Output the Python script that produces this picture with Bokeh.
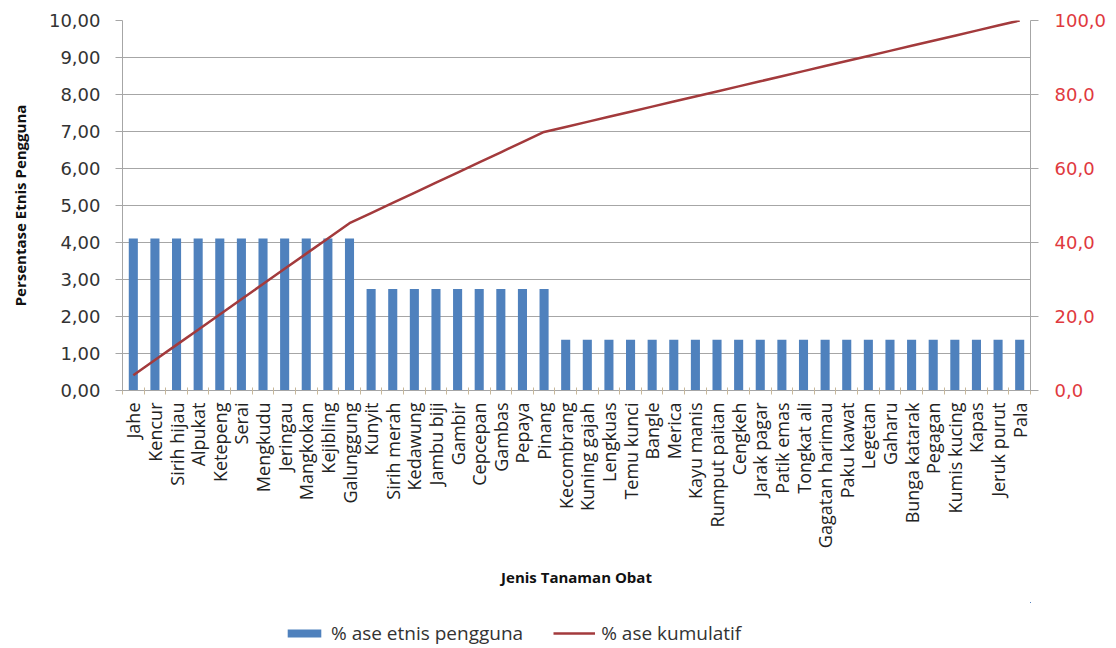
import numpy as np
from bokeh.plotting import figure
from bokeh.layouts import column
from bokeh.models import (Range1d, LinearAxis, FixedTicker, Legend, LegendItem,
                          ColumnDataSource)
from bokeh.embed import file_html
from bokeh.resources import INLINE

# Medicinal plant species and the share of ethnic users (%) for each
plants = ["Jahe", "Kencur", "Sirih hijau", "Alpukat", "Ketepeng", "Serai",
          "Mengkudu", "Jeringau", "Mangkokan", "Kejibling", "Galunggung",
          "Kunyit", "Sirih merah", "Kedawung", "Jambu biji", "Gambir",
          "Cepcepan", "Gambas", "Pepaya", "Pinang",
          "Kecombrang", "Kuning gajah", "Lengkuas", "Temu kunci", "Bangle",
          "Merica", "Kayu manis", "Rumput paitan", "Cengkeh", "Jarak pagar",
          "Patik emas", "Tongkat ali", "Gagatan harimau", "Paku kawat",
          "Legetan", "Gaharu", "Bunga katarak", "Pegagan", "Kumis kucing",
          "Kapas", "Jeruk purut", "Pala"]
pct_users = [4.11] * 11 + [2.74] * 9 + [1.37] * 22

left_ticks = [0, 1, 2, 3, 4, 5, 6, 7, 8, 9, 10]
right_ticks = [0, 20, 40, 60, 80, 100]

BLUE = "#4F81BD"
LINE = "#A33A3C"
RED_TXT = "#E0393E"
GRID = "#A6A6A6"
FONT = "Open Sans"
NUM_FONT = "DejaVu Sans"

x = np.arange(len(plants))
cumulative = np.cumsum(pct_users)
src = ColumnDataSource(dict(x=x, pct=pct_users, cum=cumulative, name=plants))

p = figure(frame_width=908, frame_height=370, output_backend="svg",
           toolbar_location=None,
           x_range=Range1d(-0.5, len(plants) - 0.5), y_range=Range1d(0, 10),
           min_border_left=122, min_border_right=86, min_border_top=20,
           min_border_bottom=212, background_fill_color="white",
           border_fill_color="white")
p.outline_line_color = None
p.extra_y_ranges = {"cum": Range1d(0, 100)}

# grid
p.xgrid.grid_line_color = None
p.ygrid.grid_line_color = GRID
p.ygrid.grid_line_width = 1

# x axis: names at bar centres, small marks at category boundaries
xa = p.xaxis[0]
xa.ticker = FixedTicker(ticks=list(x), minor_ticks=list(np.arange(len(plants) + 1) - 0.5))
xa.major_label_overrides = {int(i): n for i, n in zip(x, plants)}
xa.major_label_orientation = np.pi / 2
xa.major_tick_line_color = None
xa.minor_tick_line_color = "#C8B89A"
xa.minor_tick_in = 3
xa.minor_tick_out = 4
xa.axis_line_color = GRID
xa.major_label_text_font = FONT
xa.major_label_text_font_size = "18px"
xa.major_label_text_color = "#222222"
xa.major_label_standoff = 6
xa.axis_label = "Jenis Tanaman Obat"
xa.axis_label_text_font = FONT
xa.axis_label_text_font_style = "bold"
xa.axis_label_text_font_size = "15px"
xa.axis_label_text_color = "#111111"
xa.axis_label_standoff = 16

# left axis
ya = p.yaxis[0]
ya.ticker = FixedTicker(ticks=left_ticks)
ya.major_label_overrides = {t: f"{t:.2f}".replace(".", ",") for t in left_ticks}
ya.minor_tick_line_color = None
ya.major_tick_in = 0
ya.major_tick_out = 7
ya.major_tick_line_color = GRID
ya.axis_line_color = GRID
ya.major_label_text_font = NUM_FONT
ya.major_label_text_font_size = "18px"
ya.major_label_text_color = "#333333"
ya.major_label_standoff = 15
ya.axis_label = "Persentase Etnis Pengguna"
ya.axis_label_text_font = FONT
ya.axis_label_text_font_style = "bold"
ya.axis_label_text_font_size = "15px"
ya.axis_label_text_color = "#111111"
ya.axis_label_standoff = 16

# right axis for the cumulative share
ra = LinearAxis(y_range_name="cum", ticker=FixedTicker(ticks=right_ticks))
ra.major_label_overrides = {t: f"{t:.1f}".replace(".", ",") for t in right_ticks}
ra.minor_tick_line_color = None
ra.major_tick_in = 0
ra.major_tick_out = 8
ra.major_tick_line_color = GRID
ra.axis_line_color = GRID
ra.major_label_text_font = NUM_FONT
ra.major_label_text_font_size = "18px"
ra.major_label_text_color = RED_TXT
ra.major_label_standoff = 16
p.add_layout(ra, "right")

p.vbar(x="x", top="pct", width=0.42, source=src, fill_color=BLUE, line_color=None)
p.line(x="x", y="cum", source=src, y_range_name="cum", line_color=LINE, line_width=2.5)

# legend strip under the chart; its view ranges lie away from the data, so
# only the legend keys of these two renderers show up
leg = figure(width=1116, height=46, output_backend="svg", toolbar_location=None,
             x_axis_type=None, y_axis_type=None, min_border=0,
             x_range=Range1d(-100, -99), y_range=Range1d(-100, -99),
             background_fill_color="white", border_fill_color="white")
leg.outline_line_color = None
leg.grid.visible = False
key_bar = leg.vbar(x="x", top="pct", width=0.42, source=src, fill_color=BLUE, line_color=None)
key_line = leg.line(x="x", y="cum", source=src, line_color=LINE, line_width=2.5)

legend = Legend(items=[LegendItem(label="% ase etnis pengguna", renderers=[key_bar]),
                       LegendItem(label="% ase kumulatif", renderers=[key_line])],
                orientation="horizontal", location=(161, 2),
                glyph_width=42, glyph_height=10, spacing=30,
                label_text_font=FONT, label_text_font_size="19px",
                label_text_color="#333333", label_standoff=6,
                border_line_color=None, background_fill_alpha=0,
                margin=0, padding=2)
leg.add_layout(legend)

open("out.html", "w").write(file_html(column(p, leg, spacing=0), INLINE))
